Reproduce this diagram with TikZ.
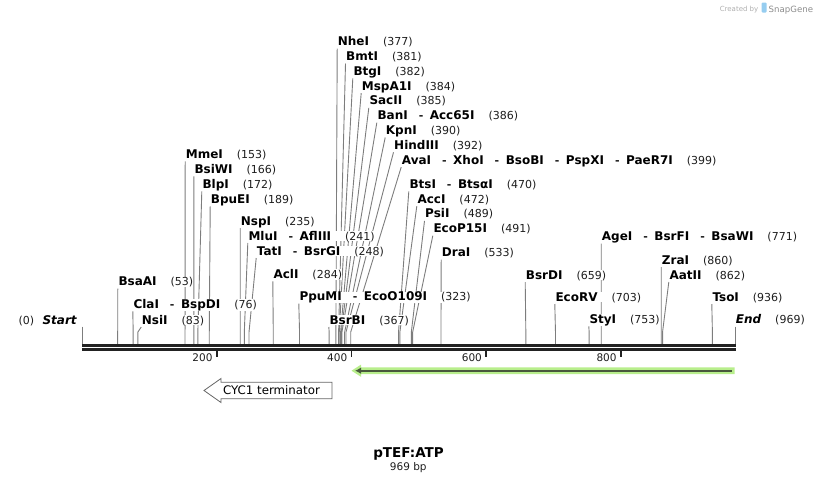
\documentclass[tikz,border=0pt]{standalone}
\usepackage{fontspec}
\setmainfont{DejaVu Sans}
\usetikzlibrary{arrows.meta,calc}
\pgfdeclarelayer{bg}
\pgfsetlayers{bg,main}
\definecolor{cutgray}{RGB}{125,125,125}
\definecolor{bargray}{RGB}{34,34,34}
\definecolor{lgreen}{RGB}{184,238,140}
\definecolor{dgreen}{RGB}{72,88,60}
\definecolor{numcol}{RGB}{30,30,30}
\definecolor{wmgray}{RGB}{175,175,175}
\definecolor{wmblue}{RGB}{150,205,240}
\newcommand\nmf[1]{{\fontsize{12}{14}\selectfont\bfseries #1}}
\newcommand\nuf[1]{{\fontsize{11}{13}\selectfont\color{numcol}#1}}
\newcommand\sdash{\hspace{11pt}\nuf{-}\hspace{6.5pt}}
\newcommand\lgap{\hspace{14pt}}
\newcommand\sitex[1]{82+#1*0.6735}
\newcommand\cutsite[5]{%
  \node[lbl] (#1) at (#2,#3) {\nmf{#4}\lgap\nuf{(#5)}};
  \coordinate (#1k) at ({\sitex{#5}},332);
  \coordinate (#1b) at ({\sitex{#5}},344);
  \begin{pgfonlayer}{bg}
  \draw[cutline] ([xshift=-0.5pt,yshift=-3pt]#1.base west) -- (#1k) -- (#1b);
  \end{pgfonlayer}
}
\tikzset{
  lbl/.style={inner sep=0pt, anchor=base west, fill=white},
  cutline/.style={draw=cutgray, line width=0.9pt},
  barline/.style={draw=bargray, line width=2.6pt},
  tickline/.style={draw=bargray, line width=1.8pt},
  ticklbl/.style={inner sep=0pt, anchor=base east, font=\fontsize{10.5}{12}\selectfont, text=numcol},
  featbox/.style={draw=black!60, line width=0.8pt, fill=white},
}
\begin{document}
\begin{tikzpicture}[x=1pt,y=-1pt]
\useasboundingbox (0,0) rectangle (818,483);

% watermark
\node[inner sep=0pt, anchor=base east, font=\fontsize{7}{8}\selectfont, text=wmgray] (wm1) at (758.5,11) {Created by};
\fill[wmblue, rounded corners=1pt] (761.5,2.5) rectangle (766.5,12.5);
\node[inner sep=0pt, anchor=base west, font=\fontsize{8.6}{10}\selectfont, text=black!45] (wm2) at (768.5,12) {SnapGene};

% cut sites
\cutsite{bsaai}{118.3}{285.7}{BsaAI}{53}
\cutsite{clai}{133.3}{308.3}{ClaI\sdash BspDI}{76}
\cutsite{nsii}{141.7}{324}{NsiI}{83}
\cutsite{mmei}{185.7}{158.3}{MmeI}{153}
\cutsite{bsiwi}{194.3}{173.3}{BsiWI}{166}
\cutsite{blpi}{202.3}{188.3}{BlpI}{172}
\cutsite{bpuei}{210.7}{203.3}{BpuEI}{189}
\cutsite{nspi}{240.7}{225}{NspI}{235}
\cutsite{mlui}{248.3}{240}{MluI\sdash AflIII}{241}
\cutsite{tati}{256.7}{255}{TatI\sdash BsrGI}{248}
\cutsite{acli}{273.3}{278.3}{AclI}{284}
\cutsite{ppumi}{299.3}{300.7}{PpuMI\sdash EcoO109I}{323}
\cutsite{bsrbi}{329.3}{324}{BsrBI}{367}
\cutsite{nhei}{337.7}{45.7}{NheI}{377}
\cutsite{bmti}{346}{60.5}{BmtI}{381}
\cutsite{btgi}{353.3}{75.3}{BtgI}{382}
\cutsite{mspa}{361.7}{90.1}{MspA1I}{384}
\cutsite{sacii}{369.3}{104.9}{SacII}{385}
\cutsite{bani}{377.3}{119.7}{BanI\sdash Acc65I}{386}
\cutsite{kpni}{385.7}{134.5}{KpnI}{390}
\cutsite{hind}{394}{149.3}{HindIII}{392}
\cutsite{avai}{401.7}{164.1}{AvaI\sdash XhoI\sdash BsoBI\sdash PspXI\sdash PaeR7I}{399}
\cutsite{btsi}{409.3}{188.3}{BtsI\sdash BtsαI}{470}
\cutsite{acci}{417.3}{203.1}{AccI}{472}
\cutsite{psii}{425}{217.9}{PsiI}{489}
\cutsite{ecop}{433.3}{232.7}{EcoP15I}{491}
\cutsite{drai}{441.7}{256.7}{DraI}{533}
\cutsite{bsrdi}{525.7}{279}{BsrDI}{659}
\cutsite{ecorv}{555.3}{301}{EcoRV}{703}
\cutsite{styi}{589.3}{323.3}{StyI}{753}
\cutsite{agei}{601.7}{240.7}{AgeI\sdash BsrFI\sdash BsaWI}{771}
\cutsite{zrai}{661.7}{264}{ZraI}{860}
\cutsite{aatii}{669.3}{279}{AatII}{862}
\cutsite{tsoi}{712.3}{301}{TsoI}{936}

% start / end
\node[lbl] (start) at (18.3,324) {\nuf{(0)}\hspace{8.5pt}\nmf{\itshape Start}};
\coordinate (startk) at (82,326.5);
\coordinate (startb) at (82,344);
\draw[cutline] (startk) -- (startb);
\node[lbl] (end) at (735.7,323.3) {\nmf{\itshape End}\lgap\nuf{(969)}};
\coordinate (endk) at (735,326.5);
\coordinate (endb) at (735,344);
\draw[cutline] (endk) -- (endb);

% backbone
\coordinate (b1l) at (82,345.3);
\coordinate (b1r) at (735.5,345.3);
\coordinate (b2l) at (82,349.5);
\coordinate (b2r) at (735.5,349.5);
\draw[barline] (b1l) -- (b1r);
\draw[barline] (b2l) -- (b2r);

% ticks
\foreach \t in {200,400,600,800}{
  \coordinate (ta\t) at ({\sitex{\t}},350.5);
  \coordinate (tb\t) at ({\sitex{\t}},357);
  \draw[tickline] (ta\t) -- (tb\t);
  \node[ticklbl] (tl\t) at ({\sitex{\t}-4},361.5) {\t};
}

% green feature arrow
\fill[lgreen] (351.5,370.7) -- (361,364.6) -- (361,367.4) -- (734.5,367.4)
  -- (734.5,374) -- (361,374) -- (361,376.8) -- cycle;
\coordinate (gr) at (731.5,370.7);
\coordinate (gl) at (355,370.7);
\draw[dgreen, line width=2.2pt, -{Latex[length=6pt,width=6.5pt]}] (gr) -- (gl);

% CYC1 terminator
\draw[featbox] (204,390.5) -- (221,378.5) -- (221,382.3) -- (332,382.3)
  -- (332,398.7) -- (221,398.7) -- (221,402.5) -- cycle;
\node[inner sep=0pt, font=\fontsize{11.8}{14}\selectfont] (cyc) at (271.5,390.5) {CYC1 terminator};

% title
\node[inner sep=0pt, anchor=base, font=\fontsize{13.5}{16}\selectfont\bfseries] (title) at (408.5,457.3) {pTEF:ATP};
\node[inner sep=0pt, anchor=base, font=\fontsize{10.5}{12}\selectfont, text=numcol] (size) at (408.3,470.5) {969 bp};
\end{tikzpicture}
\end{document}
